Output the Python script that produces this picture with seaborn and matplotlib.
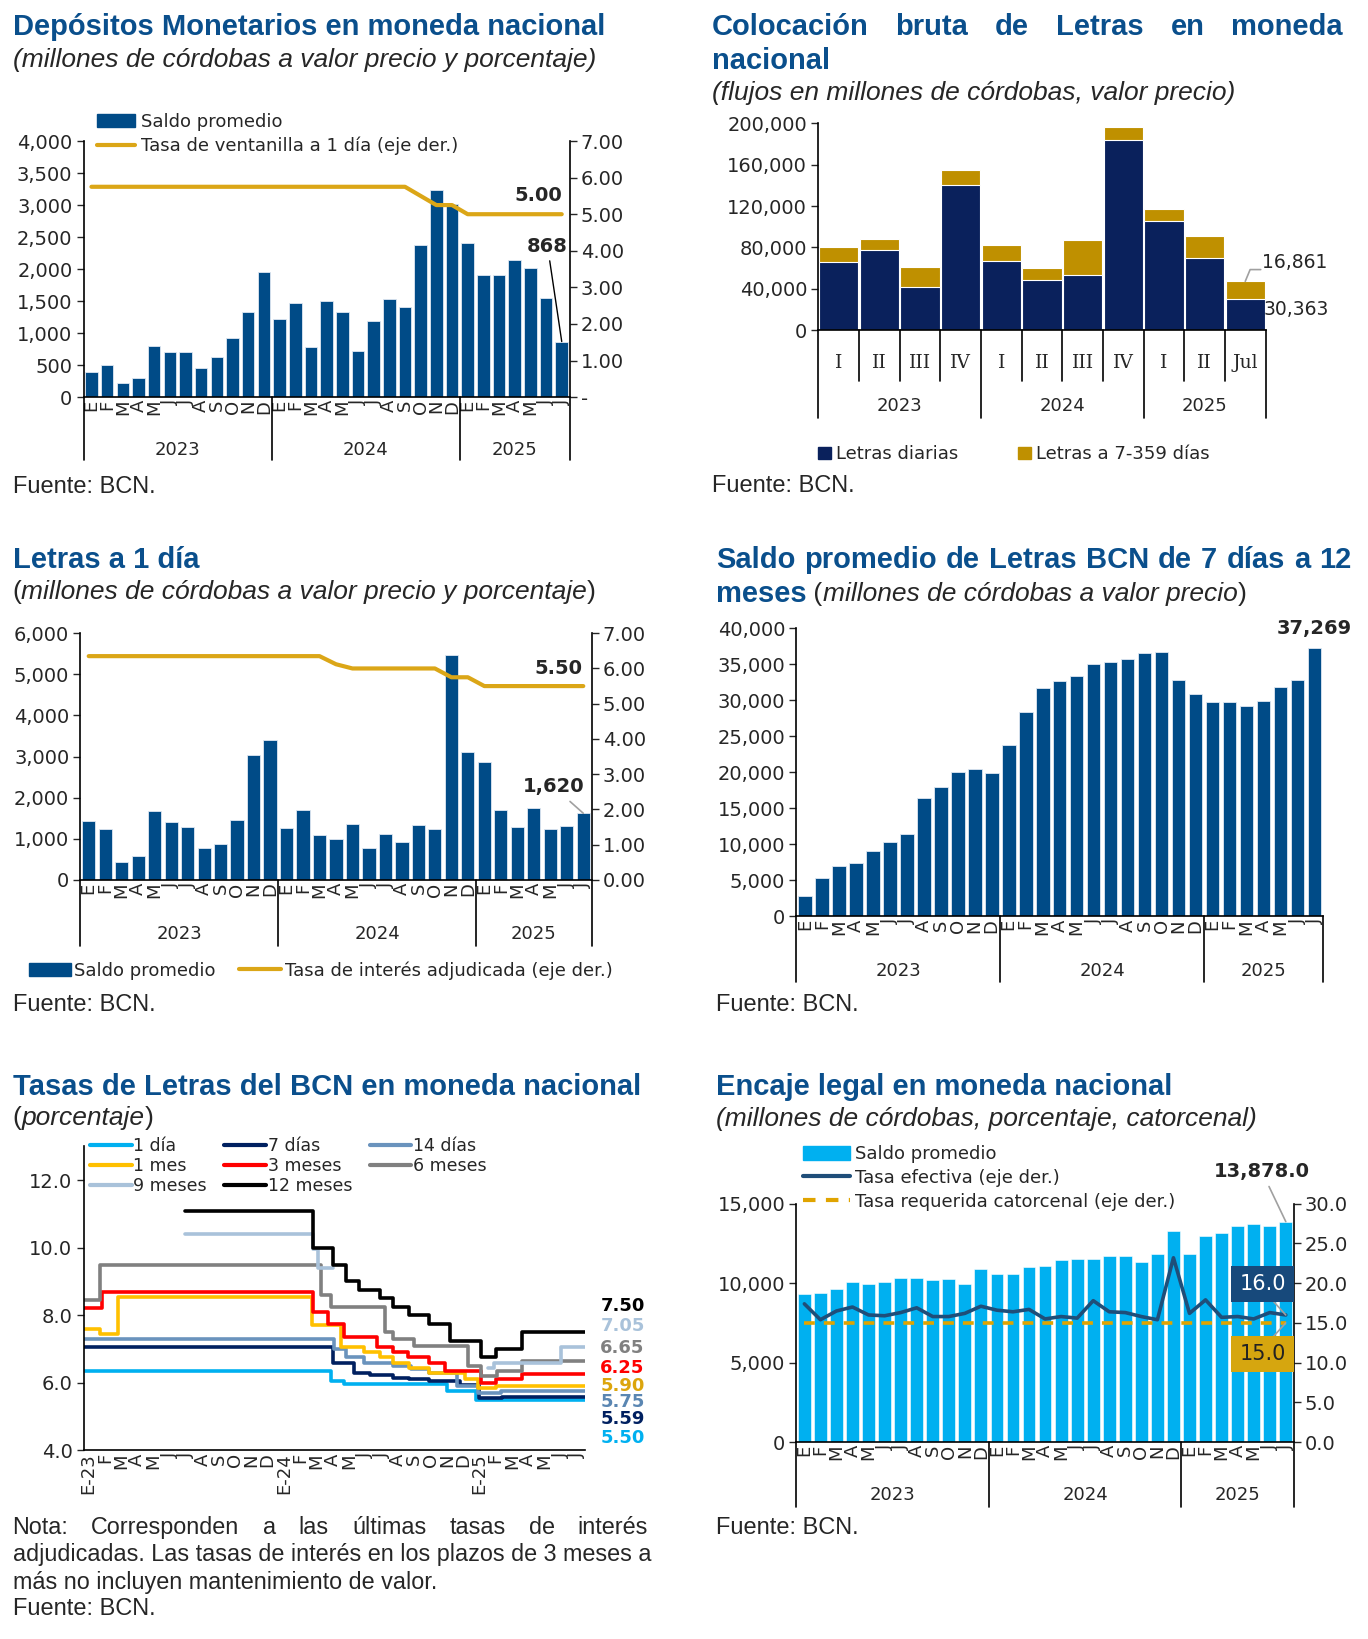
import numpy as np
import pandas as pd
import matplotlib
matplotlib.use("Agg")
import matplotlib.pyplot as plt
import matplotlib.ticker as mticker
from matplotlib.lines import Line2D
from matplotlib.patches import Patch
import seaborn as sns

# ------------------------------------------------------------------
# Datos
# ------------------------------------------------------------------
meses = ['E', 'F', 'M', 'A', 'M', 'J', 'J', 'A', 'S', 'O', 'N', 'D',
         'E', 'F', 'M', 'A', 'M', 'J', 'J', 'A', 'S', 'O', 'N', 'D',
         'E', 'F', 'M', 'A', 'M', 'J', 'J']
anios = ['2023', '2024', '2025']
limites_anio = [-0.5, 11.5, 23.5, 30.5]

# Depositos monetarios
dep_saldo = [390, 500, 215, 300, 795, 700, 700, 460, 633, 930, 1328, 1955,
             1218, 1469, 779, 1495, 1328, 727, 1190, 1532, 1401, 2374, 3231, 3012,
             2405, 1913, 1913, 2143, 2013, 1548, 868]
dep_tasa = [5.75, 5.75, 5.75, 5.75, 5.75, 5.75, 5.75, 5.75, 5.75, 5.75, 5.75, 5.75,
            5.75, 5.75, 5.75, 5.75, 5.75, 5.75, 5.75, 5.75, 5.75, 5.50, 5.25, 5.25,
            5.00, 5.00, 5.00, 5.00, 5.00, 5.00, 5.00]

# Colocacion bruta de Letras
col_trim = ['I', 'II', 'III', 'IV', 'I', 'II', 'III', 'IV', 'I', 'II', 'Jul']
col_limites = [-0.5, 3.5, 7.5, 10.5]
col_diarias = [65800, 77400, 41900, 140600, 66500, 48100, 52900, 183900, 105500, 70000, 30363]
col_plazo = [14200, 10300, 19400, 14600, 15800, 11600, 34200, 12600, 11300, 20600, 16861]

# Letras a 1 dia
let1_saldo = [1435, 1241, 446, 592, 1686, 1411, 1297, 786, 884, 1468, 3032, 3397,
              1273, 1703, 1103, 1005, 1362, 786, 1127, 916, 1338, 1249, 5465, 3122,
              2862, 1703, 1297, 1743, 1249, 1314, 1620]
let1_tasa = [6.35, 6.35, 6.35, 6.35, 6.35, 6.35, 6.35, 6.35, 6.35, 6.35, 6.35, 6.35,
             6.35, 6.35, 6.35, 6.12, 6.00, 6.00, 6.00, 6.00, 6.00, 6.00, 5.75, 5.75,
             5.50, 5.50, 5.50, 5.50, 5.50, 5.50, 5.50]

# Saldo promedio Letras 7 dias a 12 meses
sal_7_12 = [2775, 5318, 6983, 7353, 9064, 10266, 11468, 16370, 17896, 19977, 20439, 19838,
            23723, 28347, 31630, 32647, 33341, 35052, 35283, 35653, 36532, 36624, 32740, 30890,
            29688, 29780, 29133, 29827, 31769, 32832, 37269]

# Tasas de Letras (cambios de tasa: posicion en meses, tasa)
tas_meses = ['E-23', 'F', 'M', 'A', 'M', 'J', 'J', 'A', 'S', 'O', 'N', 'D',
             'E-24', 'F', 'M', 'A', 'M', 'J', 'J', 'A', 'S', 'O', 'N', 'D',
             'E-25', 'F', 'M', 'A', 'M', 'J', 'J']
t1d_x = [0.0, 15.2, 16.0, 22.3, 24.1, 30.8]
t1d_y = [6.35, 6.05, 5.97, 5.75, 5.50, 5.50]
t7d_x = [0.0, 15.3, 16.6, 17.6, 19.0, 20.0, 21.2, 23.1, 24.3, 25.7, 30.8]
t7d_y = [7.05, 6.60, 6.30, 6.22, 6.15, 6.10, 6.05, 5.95, 5.55, 5.59, 5.59]
t14d_x = [0.0, 15.4, 16.1, 17.2, 19.0, 20.1, 21.2, 22.9, 24.2, 25.6, 30.8]
t14d_y = [7.30, 7.00, 6.75, 6.60, 6.50, 6.40, 6.30, 5.90, 5.70, 5.75, 5.75]
t1m_x = [0.0, 1.0, 2.1, 14.0, 15.8, 17.2, 18.2, 19.0, 20.0, 21.2, 23.4, 24.2, 25.3, 30.8]
t1m_y = [7.60, 7.45, 8.55, 7.70, 7.05, 6.90, 6.75, 6.60, 6.45, 6.30, 6.10, 5.85, 5.90, 5.90]
t3m_x = [0.0, 1.1, 14.1, 15.0, 16.0, 18.0, 19.0, 19.9, 21.2, 22.2, 24.4, 25.3, 26.9, 30.8]
t3m_y = [8.20, 8.70, 8.10, 7.75, 7.35, 7.05, 6.90, 6.75, 6.60, 6.35, 6.00, 6.10, 6.25, 6.25]
t6m_x = [0.0, 1.0, 14.6, 15.2, 18.5, 19.0, 20.3, 23.6, 24.4, 25.4, 26.9, 30.8]
t6m_y = [8.45, 9.50, 8.60, 8.25, 7.50, 7.30, 7.10, 6.50, 6.20, 6.35, 6.65, 6.65]
t9m_a_x = [6.2, 14.1, 14.4, 15.3]
t9m_a_y = [10.40, 9.95, 9.40, 9.40]
t9m_b_x = [24.8, 25.2, 29.3, 30.8]
t9m_b_y = [6.45, 6.60, 7.05, 7.05]
t12m_x = [6.2, 14.1, 15.3, 16.1, 16.9, 18.2, 19.0, 20.0, 21.2, 22.5, 24.4, 25.3, 26.9, 30.8]
t12m_y = [11.10, 10.00, 9.50, 9.00, 8.75, 8.50, 8.25, 8.00, 7.75, 7.25, 6.75, 7.00, 7.50, 7.50]

# Encaje legal
enc_saldo = [9300, 9400, 9650, 10050, 9950, 10050, 10300, 10300, 10200, 10250, 9950, 10900,
             10550, 10600, 11050, 11100, 11450, 11500, 11500, 11700, 11700, 11350, 11850, 13300,
             11850, 13000, 13150, 13600, 13750, 13600, 13878]
enc_tasa_ef = [17.4, 15.4, 16.5, 17.0, 16.0, 15.9, 16.3, 16.9, 15.8, 15.8, 16.2, 17.1,
               16.6, 16.4, 16.7, 15.5, 15.8, 15.6, 17.8, 16.4, 16.3, 15.8, 15.4, 23.2,
               16.2, 17.9, 15.7, 15.8, 15.5, 16.3, 16.0]
enc_tasa_req = [15.0, 15.0, 15.0, 15.0, 15.0, 15.0, 15.0, 15.0, 15.0, 15.0, 15.0, 15.0,
                15.0, 15.0, 15.0, 15.0, 15.0, 15.0, 15.0, 15.0, 15.0, 15.0, 15.0, 15.0,
                15.0, 15.0, 15.0, 15.0, 15.0, 15.0, 15.0]

# ------------------------------------------------------------------
# Estilo
# ------------------------------------------------------------------
sns.set_style('white')
plt.rcParams['font.family'] = ['DejaVu Sans']

AZUL = '#004b87'
ORO = '#dba617'
NAVY = '#0a215c'
ORO2 = '#bf9000'
CELESTE = '#00b0f0'
TIT = '#0a4f8c'
FT = 'Liberation Sans'

fig = plt.figure(figsize=(13.68, 16.39), dpi=100)
# coordenadas de trabajo (pixeles de la vista de referencia)
WD, HD = 1309.0, 1568.5


def fx(x):
    return x / WD


def fy(y):
    return 1 - y / HD


def add_ax(x0, y0, x1, y1):
    return fig.add_axes([fx(x0), fy(y1), (x1 - x0) / WD, (y1 - y0) / HD])


def estilo(ax):
    for s in ['top', 'right']:
        ax.spines[s].set_visible(False)
    for s in ['left', 'bottom']:
        ax.spines[s].set_color('black')
        ax.spines[s].set_linewidth(1.2)
    ax.set_xlabel('')
    ax.set_ylabel('')
    ax.tick_params(axis='y', direction='out', length=5, width=1, labelsize=14, pad=3, left=True)
    ax.tick_params(axis='x', length=0, labelsize=13, pad=2)


def estilo_der(ax):
    for s in ['top', 'left', 'bottom']:
        ax.spines[s].set_visible(False)
    ax.spines['right'].set_color('black')
    ax.spines['right'].set_linewidth(1.2)
    ax.set_xlabel('')
    ax.set_ylabel('')
    ax.tick_params(axis='y', direction='out', length=5, width=1, labelsize=14, pad=3, right=True)


def eje_anios(ax, limites, etiquetas, alto, largo, pos_txt):
    tr = ax.get_xaxis_transform()
    for b in limites:
        ax.plot([b, b], [0, -largo / alto], color='black', lw=1.2, transform=tr, clip_on=False)
    for a, b, t in zip(limites[:-1], limites[1:], etiquetas):
        ax.text((a + b) / 2, -pos_txt / alto, t, transform=tr, ha='center', va='center', fontsize=13)


def piezas(x, y, partes):
    r = fig.canvas.get_renderer()
    x = fx(x)
    for txt, kw in partes:
        t = fig.text(x, fy(y), txt, va='center', **kw)
        x += t.get_window_extent(r).width / fig.bbox.width


def justificar(x0, x1, y, palabras, **kw):
    r = fig.canvas.get_renderer()
    ts = [fig.text(0, fy(y), p, va='center', **kw) for p in palabras]
    anchos = [t.get_window_extent(r).width / fig.bbox.width for t in ts]
    gap = (fx(x1) - fx(x0) - sum(anchos)) / (len(ts) - 1)
    x = fx(x0)
    for t, w in zip(ts, anchos):
        t.set_x(x)
        x += w + gap


def titulo(x, y, txt):
    fig.text(fx(x), fy(y), txt, va='center', fontsize=21, fontweight='bold', color=TIT, family=FT)


def subt(x, y, txt):
    fig.text(fx(x), fy(y), txt, va='center', fontsize=19, style='italic', family=FT)


def fuente(x, y):
    fig.text(fx(x), fy(y), 'Fuente: BCN.', va='center', fontsize=17, family=FT)


idx = np.arange(31)
fmt_miles = mticker.FuncFormatter(lambda v, p: f'{v:,.0f}')

# ------------------------------------------------------------------
# 1. Depositos monetarios
# ------------------------------------------------------------------
titulo(12, 26, 'Depósitos Monetarios en moneda nacional')
subt(12, 57, '(millones de córdobas a valor precio y porcentaje)')
ax1 = add_ax(80, 135, 545, 380)
sns.barplot(x=idx, y=dep_saldo, ax=ax1, color=AZUL, saturation=1, width=0.8,
            errorbar=None, edgecolor='#dfe8f2', linewidth=0.6)
estilo(ax1)
ax1.set_xlim(-0.5, 30.5)
ax1.set_ylim(0, 4000)
ax1.set_yticks(np.arange(0, 4001, 500))
ax1.yaxis.set_major_formatter(fmt_miles)
ax1.set_xticks(idx)
ax1.set_xticklabels(meses, rotation=90)
eje_anios(ax1, limites_anio, anios, 245, 60, 51)
ax1b = ax1.twinx()
sns.lineplot(x=idx, y=dep_tasa, ax=ax1b, color=ORO, lw=3)
estilo_der(ax1b)
ax1b.set_ylim(0, 7)
ax1b.set_yticks(np.arange(0, 8))
ax1b.yaxis.set_major_formatter(mticker.FuncFormatter(lambda v, p: '-' if v == 0 else f'{v:.2f}'))
ax1b.text(28.5, 5.52, f'{dep_tasa[-1]:.2f}', ha='center', va='center', fontsize=14, fontweight='bold')
ax1.annotate(f'{dep_saldo[-1]:,}', xy=(30, dep_saldo[-1]), xytext=(29.1, 2350), ha='center', va='center',
             fontsize=14, fontweight='bold',
             arrowprops=dict(arrowstyle='-', color='black', lw=1, shrinkA=1, shrinkB=0))
ax1b.legend([Patch(color=AZUL), Line2D([], [], color=ORO, lw=3)],
            ['Saldo promedio', 'Tasa de ventanilla a 1 día (eje der.)'],
            loc='upper left', bbox_to_anchor=(fx(93), fy(108)), bbox_transform=fig.transFigure,
            frameon=False, fontsize=13, handlelength=2.1, handleheight=0.8, handletextpad=0.3,
            labelspacing=0.32, borderpad=0, borderaxespad=0)
fuente(12, 466)

# ------------------------------------------------------------------
# 2. Colocacion bruta de Letras
# ------------------------------------------------------------------
justificar(681, 1285, 26, ['Colocación', 'bruta', 'de', 'Letras', 'en', 'moneda'],
           fontsize=21, fontweight='bold', color=TIT, family=FT)
titulo(681, 58, 'nacional')
subt(681, 89, '(flujos en millones de córdobas, valor precio)')
ax2 = add_ax(783, 118, 1211, 316)
idx11 = np.arange(11)
col_total = np.array(col_diarias) + np.array(col_plazo)
sns.barplot(x=idx11, y=col_total, ax=ax2, color=ORO2, saturation=1, width=0.97,
            errorbar=None, edgecolor='white', linewidth=0.8)
sns.barplot(x=idx11, y=col_diarias, ax=ax2, color=NAVY, saturation=1, width=0.97,
            errorbar=None, edgecolor='white', linewidth=0.8)
estilo(ax2)
ax2.set_xlim(-0.5, 10.5)
ax2.set_ylim(0, 200000)
ax2.set_yticks(np.arange(0, 200001, 40000))
ax2.yaxis.set_major_formatter(fmt_miles)
ax2.set_xticks([])
tr2 = ax2.get_xaxis_transform()
for i, q in enumerate(col_trim):
    ax2.text(i, -31 / 198, q, transform=tr2, ha='center', va='center', fontsize=13.5, family='DejaVu Serif')
for b in np.arange(0.5, 10.5, 1.0):
    if b not in col_limites:
        ax2.plot([b, b], [0, -49 / 198], color='black', lw=1.2, transform=tr2, clip_on=False)
eje_anios(ax2, col_limites, anios, 198, 84, 73)
ax2.text(10.42, 65600, f'{col_plazo[-1]:,}', ha='left', va='center', fontsize=13.5)
ax2.plot([10.38, 10.12, 10.0], [58600, 58600, col_total[-1]], color='#a0a0a0', lw=1.2, clip_on=False)
ax2.text(10.45, 20200, f'{col_diarias[-1]:,}', ha='left', va='center', fontsize=13.5)
ax2.legend([Patch(color=NAVY), Patch(color=ORO2)], ['Letras diarias', 'Letras a 7-359 días'],
           loc='upper left', bbox_to_anchor=(fx(783), fy(426)), bbox_transform=fig.transFigure,
           ncol=2, frameon=False, fontsize=13, handlelength=0.7, handleheight=0.7, handletextpad=0.3,
           columnspacing=3.3, borderpad=0, borderaxespad=0)
fuente(681, 465)

# ------------------------------------------------------------------
# 3. Letras a 1 dia
# ------------------------------------------------------------------
titulo(12, 536, 'Letras a 1 día')
piezas(12, 567, [('(', dict(fontsize=19, family=FT)),
                 ('millones de córdobas a valor precio y porcentaje', dict(fontsize=19, family=FT, style='italic')),
                 (')', dict(fontsize=19, family=FT))])
ax3 = add_ax(77, 606, 566, 842)
sns.barplot(x=idx, y=let1_saldo, ax=ax3, color=AZUL, saturation=1, width=0.8,
            errorbar=None, edgecolor='#dfe8f2', linewidth=0.6)
estilo(ax3)
ax3.set_xlim(-0.5, 30.5)
ax3.set_ylim(0, 6000)
ax3.set_yticks(np.arange(0, 6001, 1000))
ax3.yaxis.set_major_formatter(fmt_miles)
ax3.set_xticks(idx)
ax3.set_xticklabels(meses, rotation=90)
eje_anios(ax3, limites_anio, anios, 236, 63, 52)
ax3b = ax3.twinx()
sns.lineplot(x=idx, y=let1_tasa, ax=ax3b, color=ORO, lw=3)
estilo_der(ax3b)
ax3b.set_ylim(0, 7)
ax3b.set_yticks(np.arange(0, 8))
ax3b.yaxis.set_major_formatter(mticker.FormatStrFormatter('%.2f'))
ax3b.text(28.5, 6.0, f'{let1_tasa[-1]:.2f}', ha='center', va='center', fontsize=14, fontweight='bold')
ax3.annotate(f'{let1_saldo[-1]:,}', xy=(30, let1_saldo[-1]), xytext=(28.2, 2263), ha='center', va='center',
             fontsize=14, fontweight='bold',
             arrowprops=dict(arrowstyle='-', color='#a0a0a0', lw=1.2, shrinkA=2, shrinkB=0))
ax3b.legend([Patch(color=AZUL), Line2D([], [], color=ORO, lw=3)],
            ['Saldo promedio', 'Tasa de interés adjudicada (eje der.)'],
            loc='upper left', bbox_to_anchor=(fx(28), fy(920)), bbox_transform=fig.transFigure,
            ncol=2, frameon=False, fontsize=13, handlelength=2.3, handleheight=0.8, handletextpad=0.2,
            columnspacing=1.3, borderpad=0, borderaxespad=0)
fuente(12, 962)

# ------------------------------------------------------------------
# 4. Saldo promedio de Letras de 7 dias a 12 meses
# ------------------------------------------------------------------
justificar(685, 1293, 536, ['Saldo', 'promedio', 'de', 'Letras', 'BCN', 'de', '7', 'días', 'a', '12'],
           fontsize=21, fontweight='bold', color=TIT, family=FT)
piezas(685, 568, [('meses', dict(fontsize=21, fontweight='bold', color=TIT, family=FT)),
                  (' (', dict(fontsize=19, family=FT)),
                  ('millones de córdobas a valor precio', dict(fontsize=19, family=FT, style='italic')),
                  (')', dict(fontsize=19, family=FT))])
ax4 = add_ax(762, 601, 1266, 877)
sns.barplot(x=idx, y=sal_7_12, ax=ax4, color=AZUL, saturation=1, width=0.8,
            errorbar=None, edgecolor='#dfe8f2', linewidth=0.6)
estilo(ax4)
ax4.set_xlim(-0.5, 30.5)
ax4.set_ylim(0, 40000)
ax4.set_yticks(np.arange(0, 40001, 5000))
ax4.yaxis.set_major_formatter(fmt_miles)
ax4.set_xticks(idx)
ax4.set_xticklabels(meses, rotation=90)
eje_anios(ax4, limites_anio, anios, 276, 63, 52)
ax4.text(30, 40000, f'{sal_7_12[-1]:,}', ha='center', va='center', fontsize=14, fontweight='bold')
fuente(685, 962)

# ------------------------------------------------------------------
# 5. Tasas de Letras del BCN
# ------------------------------------------------------------------
titulo(12, 1040, 'Tasas de Letras del BCN en moneda nacional')
piezas(12, 1070, [('(', dict(fontsize=19, family=FT)),
                  ('porcentaje', dict(fontsize=19, family=FT, style='italic')),
                  (')', dict(fontsize=19, family=FT))])
ax5 = add_ax(80, 1097, 560, 1388)
series = [
    ('1 día', t1d_x, t1d_y, '#00b0f0'),
    ('7 días', t7d_x, t7d_y, '#002060'),
    ('14 días', t14d_x, t14d_y, '#6a93bd'),
    ('1 mes', t1m_x, t1m_y, '#ffc000'),
    ('3 meses', t3m_x, t3m_y, '#ff0000'),
    ('6 meses', t6m_x, t6m_y, '#808080'),
    ('9 meses', t9m_a_x, t9m_a_y, '#a9c2da'),
    ('12 meses', t12m_x, t12m_y, '#000000'),
]
for nom, xs, ys, c in series:
    sns.lineplot(x=xs, y=ys, ax=ax5, color=c, lw=2.6, drawstyle='steps-post', estimator=None, sort=False)
sns.lineplot(x=t9m_b_x, y=t9m_b_y, ax=ax5, color='#a9c2da', lw=2.6, drawstyle='steps-post',
             estimator=None, sort=False)
estilo(ax5)
ax5.set_xlim(0, 30.8)
ax5.set_ylim(4, 13)
ax5.set_yticks([4, 6, 8, 10, 12])
ax5.yaxis.set_major_formatter(mticker.FormatStrFormatter('%.1f'))
ax5.set_xticks(np.arange(31) + 0.3)
ax5.set_xticklabels(tas_meses, rotation=90)
orden = [0, 3, 6, 1, 4, 7, 2, 5]
ax5.legend([Line2D([], [], color=series[i][3], lw=3) for i in orden], [series[i][0] for i in orden],
           loc='upper left', bbox_to_anchor=(fx(86), fy(1088)), bbox_transform=fig.transFigure,
           ncol=3, frameon=False, fontsize=12.5, handlelength=2.4, handletextpad=0.1,
           columnspacing=1.0, labelspacing=0.12, borderpad=0, borderaxespad=0)
# etiquetas de ultimo valor
fin_y = [8.28, 7.67, 7.02, 6.43, 5.90, 5.44, 4.92, 4.36]
fin_ser = [(t12m_y[-1], '#000000'), (t9m_b_y[-1], '#a9c2da'), (t6m_y[-1], '#808080'),
           (t3m_y[-1], '#ff0000'), (t1m_y[-1], '#dca50c'), (t14d_y[-1], '#5a86b2'),
           (t7d_y[-1], '#002060'), (t1d_y[-1], '#00b0f0')]
tr5 = ax5.get_yaxis_transform()
for yy, (v, c) in zip(fin_y, fin_ser):
    ax5.text(1.03, yy, f'{v:.2f}', transform=tr5, ha='left', va='center', fontsize=13,
             fontweight='bold', color=c)
justificar(12, 620, 1462, ['Nota:', 'Corresponden', 'a', 'las', 'últimas', 'tasas', 'de', 'interés'],
           fontsize=16.8, family=FT)
fig.text(fx(12), fy(1488), 'adjudicadas. Las tasas de interés en los plazos de 3 meses a',
         va='center', fontsize=16.8, family=FT)
fig.text(fx(12), fy(1514), 'más no incluyen mantenimiento de valor.', va='center', fontsize=16.8, family=FT)
fuente(12, 1540)

# ------------------------------------------------------------------
# 6. Encaje legal
# ------------------------------------------------------------------
titulo(685, 1040, 'Encaje legal en moneda nacional')
subt(685, 1071, '(millones de córdobas, porcentaje, catorcenal)')
ax6 = add_ax(762, 1152, 1238, 1380)
sns.barplot(x=idx, y=enc_saldo, ax=ax6, color=CELESTE, saturation=1, width=0.8,
            errorbar=None, edgecolor='white', linewidth=0.4)
estilo(ax6)
ax6.set_xlim(-0.5, 30.5)
ax6.set_ylim(0, 15000)
ax6.set_yticks(np.arange(0, 15001, 5000))
ax6.yaxis.set_major_formatter(fmt_miles)
ax6.set_xticks(idx)
ax6.set_xticklabels(meses, rotation=90)
eje_anios(ax6, limites_anio, anios, 228, 62, 51)
ax6b = ax6.twinx()
sns.lineplot(x=idx, y=enc_tasa_ef, ax=ax6b, color='#1f4e79', lw=2.6)
sns.lineplot(x=idx, y=enc_tasa_req, ax=ax6b, color='#e0a400', lw=2.6, dashes=False, linestyle=(0, (3, 2.5)))
estilo_der(ax6b)
ax6b.set_ylim(0, 30)
ax6b.set_yticks(np.arange(0, 31, 5))
ax6b.yaxis.set_major_formatter(mticker.FormatStrFormatter('%.1f'))
ax6b.text(28.55, 19.9, f'{enc_tasa_ef[-1]:.1f}', ha='center', va='center', fontsize=15, color='white',
          bbox=dict(boxstyle='square,pad=0.4', fc='#17497b', ec='none'))
ax6b.text(28.55, 11.1, f'{enc_tasa_req[-1]:.1f}', ha='center', va='center', fontsize=15, color='#222222',
          bbox=dict(boxstyle='square,pad=0.4', fc='#d6a60f', ec='none'))
ax6b.plot([29.1, 30.0], [18.0, enc_tasa_ef[-1]], color='#a0a0a0', lw=1.2, clip_on=False)
ax6b.plot([29.1, 30.0], [13.0, enc_tasa_req[-1]], color='#a0a0a0', lw=1.2, clip_on=False)
ax6.annotate(f'{enc_saldo[-1]:,.1f}', xy=(30, enc_saldo[-1]), xytext=(28.5, 17050), ha='center', va='center',
             fontsize=14, fontweight='bold',
             arrowprops=dict(arrowstyle='-', color='#a0a0a0', lw=1.2, shrinkA=2, shrinkB=0))
ax6b.legend([Patch(color=CELESTE), Line2D([], [], color='#1f4e79', lw=3),
             Line2D([], [], color='#e0a400', lw=3, linestyle=(0, (3, 2.5)))],
            ['Saldo promedio', 'Tasa efectiva (eje der.)', 'Tasa requerida catorcenal (eje der.)'],
            loc='upper left', bbox_to_anchor=(fx(768), fy(1096)), bbox_transform=fig.transFigure,
            frameon=False, fontsize=13, handlelength=2.6, handleheight=0.8, handletextpad=0.3,
            labelspacing=0.32, borderpad=0, borderaxespad=0)
fuente(685, 1462)

fig.savefig('out.png', dpi=100, facecolor='white')
